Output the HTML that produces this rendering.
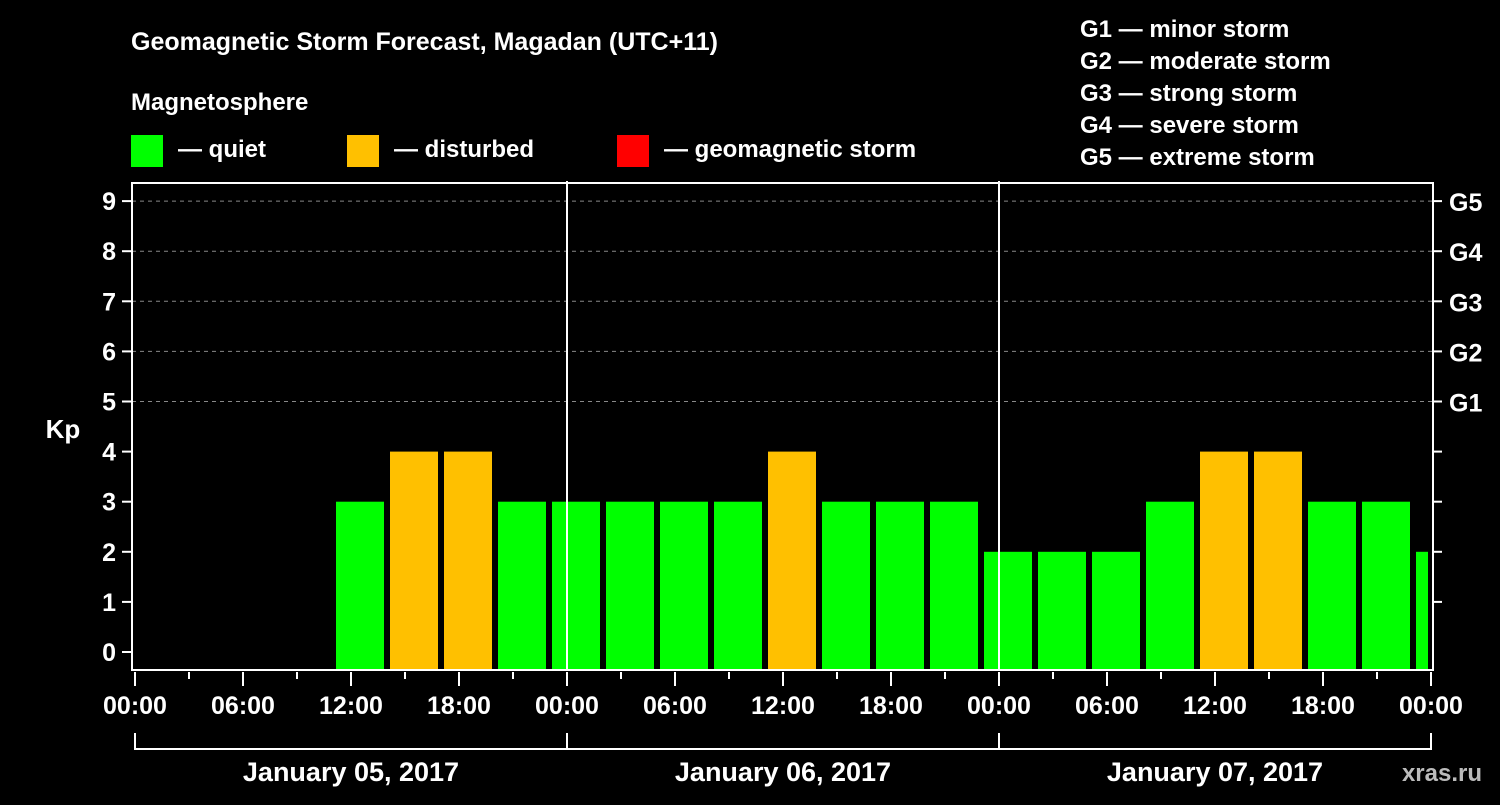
<!DOCTYPE html>
<html><head><meta charset="utf-8"><style>
body{margin:0;background:#000;}
svg text{font-family:"Liberation Sans",Arial,sans-serif;font-weight:bold;fill:#fff;}
</style></head><body>
<svg id="chart" width="1500" height="800" viewBox="0 0 1500 800" xmlns="http://www.w3.org/2000/svg">
<rect width="1500" height="800" fill="#000"/>
<text x="131" y="50" font-size="25">Geomagnetic Storm Forecast, Magadan (UTC+11)</text>
<text x="131" y="110" font-size="24">Magnetosphere</text>
<g><rect x="131" y="135" width="32" height="32" fill="#00ff00"/><text x="178" y="157" font-size="24">— quiet</text></g>
<g><rect x="347" y="135" width="32" height="32" fill="#ffc000"/><text x="394" y="157" font-size="24">— disturbed</text></g>
<g><rect x="617" y="135" width="32" height="32" fill="#ff0000"/><text x="664" y="157" font-size="24">— geomagnetic storm</text></g>
<g font-size="24">
<text x="1080" y="37">G1 — minor storm</text>
<text x="1080" y="69">G2 — moderate storm</text>
<text x="1080" y="101">G3 — strong storm</text>
<text x="1080" y="133">G4 — severe storm</text>
<text x="1080" y="165">G5 — extreme storm</text>
</g>
<g id="grid"></g>
<g id="bars"></g>
<g id="axes"></g>
<text x="63" y="438" font-size="26" text-anchor="middle">Kp</text>
<text x="1482" y="781" font-size="24" text-anchor="end" fill="#bbb" style="fill:#bbb">xras.ru</text>
</svg>
<script>
const startHours = [11,14,17,20,23,26,29,32,35,38,41,44,47,50,53,56,59,62,65,68,71];
const kpValues = [3,4,4,3,3,3,3,3,4,3,3,3,2,2,2,3,4,4,3,3,2];
const yTicks = [0,1,2,3,4,5,6,7,8,9];
const gLabels = ["G1","G2","G3","G4","G5"];
const xTickLabels = ["00:00","06:00","12:00","18:00","00:00","06:00","12:00","18:00","00:00","06:00","12:00","18:00","00:00"];
const dayLabels = ["January 05, 2017","January 06, 2017","January 07, 2017"];
const NS="http://www.w3.org/2000/svg";
const L=132,R=1433,T=183,B=670;
const x=h=>135+h*18;
const y=v=>652-v*50.1;
function mk(tag,attrs,parent){const e=document.createElementNS(NS,tag);for(const k in attrs)e.setAttribute(k,attrs[k]);document.getElementById(parent).appendChild(e);return e;}
// grid
for(let v=5;v<=9;v++){const e=mk('line',{x1:L,x2:R,y1:y(v),y2:y(v),stroke:'#888','stroke-dasharray':'4 4','stroke-width':1},'grid');

}
// bars
kpValues.forEach((v,i)=>{const x0=x(startHours[i])+3;let x1=x(startHours[i]+3)-3;x1=Math.min(x1,R-5);
const c=v>=5?'#ff0000':(v>=4?'#ffc000':'#00ff00');
const r=mk('rect',{x:x0,y:y(v),width:x1-x0,height:B-y(v),fill:c},'bars');

});
// axes box
const box=mk('rect',{x:L,y:T,width:R-L,height:B-T,fill:'none',stroke:'#fff','stroke-width':2},'axes');


[1,2].forEach(d=>{const l=mk('line',{x1:x(d*24),x2:x(d*24),y1:T-2,y2:B,stroke:'#fff','stroke-width':2},'axes');

});
yTicks.forEach(v=>{mk('line',{x1:L-10,x2:L,y1:y(v),y2:y(v),stroke:'#fff','stroke-width':2},'axes');
const t=mk('text',{x:L-16,y:y(v)+9,'font-size':25,'text-anchor':'end'},'axes');t.textContent=v;


if(v>=1&&v<=9) mk('line',{x1:R,x2:R+9,y1:y(v),y2:y(v),stroke:'#fff','stroke-width':2},'axes');});
gLabels.forEach((g,i)=>{const t=mk('text',{x:R+16,y:y(5+i)+10,'font-size':25},'axes');t.textContent=g;

});
for(let h=0;h<=72;h+=3){const major=h%6===0;mk('line',{x1:x(h),x2:x(h),y1:B+2,y2:B+(major?16:9),stroke:'#fff','stroke-width':2},'axes');}
xTickLabels.forEach((s,i)=>{const t=mk('text',{x:x(i*6),y:714,'font-size':25,'text-anchor':'middle'},'axes');t.textContent=s;

});
mk('line',{x1:x(0),x2:x(72),y1:749,y2:749,stroke:'#fff','stroke-width':2},'axes');
for(let d=0;d<=3;d++)mk('line',{x1:x(d*24),x2:x(d*24),y1:733,y2:750,stroke:'#fff','stroke-width':2},'axes');
dayLabels.forEach((s,i)=>{const t=mk('text',{x:x(i*24+12),y:781,'font-size':27,'text-anchor':'middle'},'axes');t.textContent=s;

});
</script>
</body></html>
